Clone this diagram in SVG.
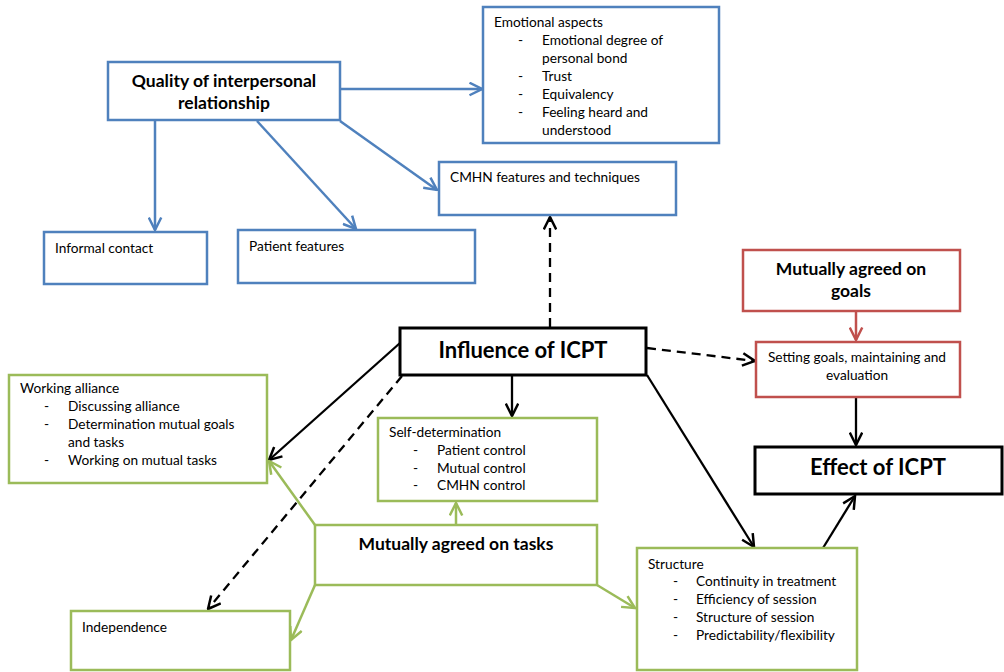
<svg xmlns="http://www.w3.org/2000/svg" width="1004" height="672" viewBox="0 0 1004 672">
<style>
text{font-family:Lato,"Open Sans","Liberation Sans",sans-serif;fill:#000;font-size:13.7px}
.b{font-weight:bold;font-size:17.5px;text-anchor:middle}
.h{font-weight:bold;font-size:22px;text-anchor:middle}
.c{text-anchor:middle}
.bl{fill:#fff;stroke:#4f81bd;stroke-width:2.5}
.gr{fill:#fff;stroke:#9bbb59;stroke-width:2.5}
.rd{fill:#fff;stroke:#c0504d;stroke-width:2.5}
.bk{fill:#fff;stroke:#000;stroke-width:3}
.lb{stroke:#4f81bd;stroke-width:2.5;fill:none;marker-end:url(#mb)}
.lg{stroke:#9bbb59;stroke-width:2.5;fill:none;marker-end:url(#mg)}
.lr{stroke:#c0504d;stroke-width:2.5;fill:none;marker-end:url(#mr)}
.lk{stroke:#000;stroke-width:2.3;fill:none;marker-end:url(#mk)}
.ld{stroke:#000;stroke-width:2.3;fill:none;stroke-dasharray:9,6;marker-end:url(#mk)}
</style>
<defs>
<marker id="mb" viewBox="0 0 12 12" refX="11" refY="6" markerWidth="6" markerHeight="6" markerUnits="strokeWidth" orient="auto"><path d="M1,1 L11,6 L1,11" fill="none" stroke="#4f81bd" stroke-width="2"/></marker>
<marker id="mg" viewBox="0 0 12 12" refX="11" refY="6" markerWidth="6" markerHeight="6" markerUnits="strokeWidth" orient="auto"><path d="M1,1 L11,6 L1,11" fill="none" stroke="#9bbb59" stroke-width="2"/></marker>
<marker id="mr" viewBox="0 0 12 12" refX="11" refY="6" markerWidth="6" markerHeight="6" markerUnits="strokeWidth" orient="auto"><path d="M1,1 L11,6 L1,11" fill="none" stroke="#c0504d" stroke-width="2"/></marker>
<marker id="mk" viewBox="0 0 12 12" refX="11" refY="6" markerWidth="6.5" markerHeight="6.5" markerUnits="strokeWidth" orient="auto"><path d="M1,1 L11,6 L1,11" fill="none" stroke="#000" stroke-width="2"/></marker>
</defs>

<g id="connectors">
<line class="lb" x1="340" y1="89" x2="482" y2="89"/>
<line class="lb" x1="340" y1="121" x2="437" y2="190"/>
<line class="lb" x1="155" y1="121" x2="155" y2="230"/>
<line class="lb" x1="257" y1="121" x2="356" y2="229"/>
<line class="ld" x1="550" y1="327" x2="550" y2="217"/>
<line class="lr" x1="856" y1="311" x2="856" y2="340"/>
<line class="ld" x1="647" y1="348" x2="755" y2="361"/>
<line class="lk" x1="856" y1="398" x2="856" y2="445"/>
<line class="lk" x1="823" y1="548" x2="855" y2="496"/>
<line class="lk" x1="647" y1="375" x2="754" y2="547"/>
<line class="lk" x1="512" y1="376" x2="512" y2="416"/>
<line class="lk" x1="400" y1="343" x2="269" y2="460"/>
<line class="ld" x1="402" y1="376" x2="208" y2="609"/>
<line class="lg" x1="456" y1="525" x2="456" y2="503"/>
<line class="lg" x1="315" y1="525" x2="269" y2="461"/>
<line class="lg" x1="315" y1="585" x2="291" y2="640"/>
<line class="lg" x1="597" y1="585" x2="635" y2="608"/>
</g>

<g id="quality">
<rect class="bl" x="108" y="62" width="232" height="58"/>
<text class="b" x="224" y="87">Quality of interpersonal</text>
<text class="b" x="224" y="109">relationship</text>
</g>

<g id="emotional">
<rect class="bl" x="483" y="7" width="236" height="136"/>
<text x="494" y="27">Emotional aspects</text>
<text x="518" y="45">-</text><text x="542" y="45">Emotional degree of</text>
<text x="542" y="63">personal bond</text>
<text x="518" y="81">-</text><text x="542" y="81">Trust</text>
<text x="518" y="99">-</text><text x="542" y="99">Equivalency</text>
<text x="518" y="117">-</text><text x="542" y="117">Feeling heard and</text>
<text x="542" y="135">understood</text>
</g>

<g id="cmhn">
<rect class="bl" x="439" y="162" width="237" height="53"/>
<text x="450" y="182">CMHN features and techniques</text>
</g>

<g id="informal">
<rect class="bl" x="44" y="232" width="163" height="52"/>
<text x="55" y="253">Informal contact</text>
</g>

<g id="patient">
<rect class="bl" x="238" y="230" width="237" height="53"/>
<text x="249" y="251">Patient features</text>
</g>

<g id="influence">
<rect class="bk" x="400" y="328" width="246" height="47"/>
<text class="h" x="523" y="358">Influence of ICPT</text>
</g>

<g id="goals">
<rect class="rd" x="743" y="250" width="217" height="61"/>
<text class="b" x="851" y="275">Mutually agreed on</text>
<text class="b" x="851" y="297">goals</text>
</g>

<g id="setting">
<rect class="rd" x="756" y="342" width="204" height="55"/>
<text class="c" x="857" y="362">Setting goals, maintaining and</text>
<text class="c" x="857" y="380">evaluation</text>
</g>

<g id="effect">
<rect class="bk" x="755" y="447" width="247" height="47"/>
<text class="h" x="878" y="475">Effect of ICPT</text>
</g>

<g id="working">
<rect class="gr" x="9" y="375" width="258" height="108"/>
<text x="20" y="393">Working alliance</text>
<text x="44" y="411">-</text><text x="68" y="411">Discussing alliance</text>
<text x="44" y="429">-</text><text x="68" y="429">Determination mutual goals</text>
<text x="68" y="447">and tasks</text>
<text x="44" y="465">-</text><text x="68" y="465">Working on mutual tasks</text>
</g>

<g id="selfdet">
<rect class="gr" x="378" y="418" width="219" height="83"/>
<text x="389" y="437">Self-determination</text>
<text x="413" y="455">-</text><text x="437" y="455">Patient control</text>
<text x="413" y="473">-</text><text x="437" y="473">Mutual control</text>
<text x="413" y="490">-</text><text x="437" y="490">CMHN control</text>
</g>

<g id="tasks">
<rect class="gr" x="315" y="525" width="282" height="60"/>
<text class="b" x="456" y="550">Mutually agreed on tasks</text>
</g>

<g id="structure">
<rect class="gr" x="637" y="548" width="220" height="122"/>
<text x="648" y="569">Structure</text>
<text x="673" y="586">-</text><text x="696" y="586">Continuity in treatment</text>
<text x="673" y="604">-</text><text x="696" y="604">Efficiency of session</text>
<text x="673" y="622">-</text><text x="696" y="622">Structure of session</text>
<text x="673" y="640">-</text><text x="696" y="640">Predictability/flexibility</text>
</g>

<g id="independence">
<rect class="gr" x="71" y="611" width="219" height="59"/>
<text x="82" y="632">Independence</text>
</g>
</svg>
